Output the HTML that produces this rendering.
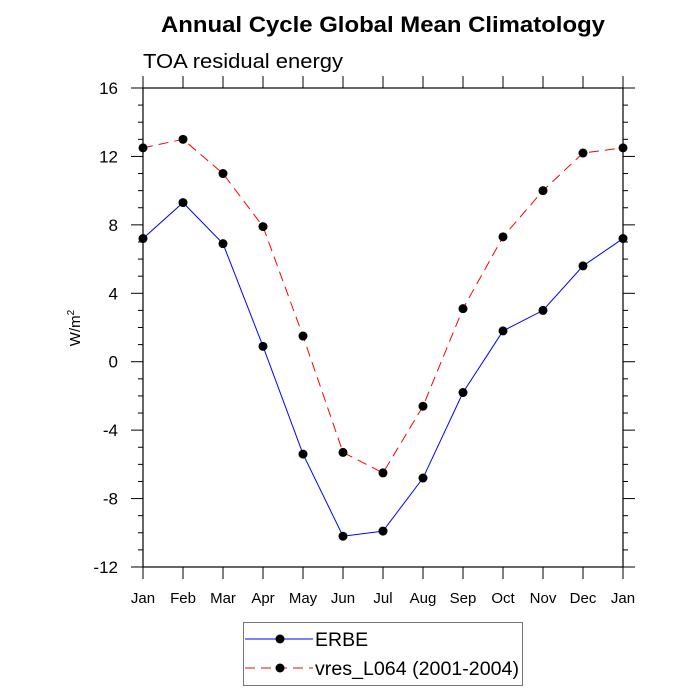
<!DOCTYPE html>
<html><head><meta charset="utf-8"><style>body{margin:0;background:#fff}svg{display:block;font-family:"Liberation Sans",sans-serif}</style></head>
<body>
<svg id="c" width="700" height="700">
<text x="383" y="32" text-anchor="middle" font-size="22" font-weight="bold" textLength="444" lengthAdjust="spacingAndGlyphs">Annual Cycle Global Mean Climatology</text>
<text x="143" y="68" font-size="20" textLength="200" lengthAdjust="spacingAndGlyphs">TOA residual energy</text>
<text transform="translate(80,328) rotate(-90)" text-anchor="middle" font-size="15">W/m<tspan dy="-6" font-size="10">2</tspan></text>
<g id="axes"></g><g id="series"></g>
<g>
<rect x="243.5" y="622.5" width="279" height="63" fill="none" stroke="#777"/>
<g><line x1="245" y1="639" x2="313" y2="639" stroke="#00f"/><circle cx="280" cy="639" r="4.5"/><text x="315" y="646" font-size="19.5">ERBE</text></g>
<g><line x1="245" y1="668" x2="313" y2="668" stroke="#f00" stroke-dasharray="10,6"/><circle cx="280" cy="668" r="4.5"/><text x="315" y="675" font-size="19.5" textLength="204" lengthAdjust="spacingAndGlyphs">vres_L064 (2001-2004)</text></g>
</g>
</svg>
<script>
const months=["Jan","Feb","Mar","Apr","May","Jun","Jul","Aug","Sep","Oct","Nov","Dec","Jan"];
const erbe=[7.2,9.3,6.9,0.9,-5.4,-10.2,-9.9,-6.8,-1.8,1.8,3.0,5.6,7.2];
const vres=[12.5,13.0,11.0,7.9,1.5,-5.3,-6.5,-2.6,3.1,7.3,10.0,12.2,12.5];
const yTicks=[-12,-8,-4,0,4,8,12,16];
const X0=143,X1=623,Y0=88,Y1=567,YMIN=-12,YMAX=16;
const xs=i=>X0+(X1-X0)*i/(months.length-1);
const ys=v=>Y1-(v-YMIN)/(YMAX-YMIN)*(Y1-Y0);
const NS="http://www.w3.org/2000/svg";
function mk(p,t,a){const e=document.createElementNS(NS,t);for(const k in a)e.setAttribute(k,a[k]);p.appendChild(e);return e;}
const ax=document.getElementById('axes');
const fr=mk(ax,'rect',{x:X0,y:Y0,width:X1-X0,height:Y1-Y0,fill:'none',stroke:'#000','stroke-width':1.2});


months.forEach((m,i)=>{const x=xs(i);
mk(ax,'line',{x1:x,y1:Y1,x2:x,y2:Y1+12,stroke:'#000'});
mk(ax,'line',{x1:x,y1:Y0,x2:x,y2:Y0-12,stroke:'#000'});
const t=mk(ax,'text',{x:x,y:Y1+36,'text-anchor':'middle','font-size':15});t.textContent=m;

});
for(let v=YMIN;v<=YMAX;v++){const y=ys(v),maj=(v%4===0),L=maj?12:5;
mk(ax,'line',{x1:X0,y1:y,x2:X0-L,y2:y,stroke:'#000'});
mk(ax,'line',{x1:X1,y1:y,x2:X1+L,y2:y,stroke:'#000'});}
yTicks.forEach(v=>{const t=mk(ax,'text',{x:X0-25,y:ys(v)+6,'text-anchor':'end','font-size':17});t.textContent=v;

});
const sg=document.getElementById('series');
function series(d,col,dash,name){const g=mk(sg,'g',{});


const a={points:d.map((v,i)=>xs(i)+','+ys(v)).join(' '),fill:'none',stroke:col,'stroke-width':1};
if(dash)a['stroke-dasharray']=dash;mk(g,'polyline',a);
d.forEach((v,i)=>{const c=mk(g,'circle',{cx:xs(i),cy:ys(v),r:4.5,fill:'#000'});

});}
series(erbe,'#00f',null,'series-erbe');
series(vres,'#f00','10,6','series-vres');
</script>
</body></html>
